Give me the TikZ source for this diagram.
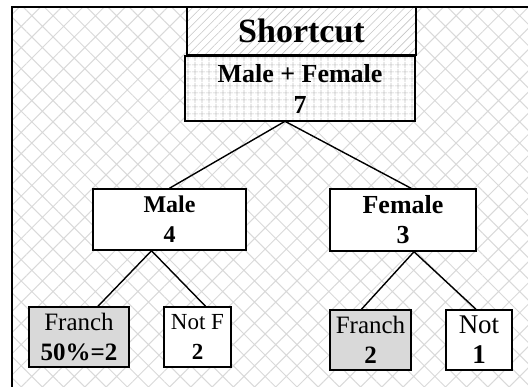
\documentclass[tikz,border=0pt]{standalone}
\usepackage{fontspec}
\setmainfont{Liberation Serif}
\usetikzlibrary{patterns.meta}

\tikzset{
  box/.style={draw=black, line width=1.5pt, fill=white, align=center, inner sep=0pt,
    font=\fontsize{25}{30}\selectfont},
  greybox/.style={box, fill=gray!30},
  link/.style={draw=black, line width=1.4pt},
}

\begin{document}
\begin{tikzpicture}[x=1pt,y=-1pt]
  \useasboundingbox (0,0) rectangle (528,387);
  \clip (0,0) rectangle (528,387);
  % background and frame
  \fill[pattern={Hatch[angle=45,distance=15pt,line width=1pt]}, pattern color=gray!30] (12,7) rectangle (540,400);
  \draw[line width=2pt] (12,400) -- (12,7) -- (540,7);

  % top boxes
  \node[box, minimum width=229pt, minimum height=48pt, line width=1.8pt,
    preaction={fill=white}, pattern={Lines[angle=45,distance=6pt,line width=0.6pt]},
    pattern color=gray!45, font=\fontsize{34}{40}\selectfont\bfseries] (short) at (301.5,31) {Shortcut};
  \node[box, minimum width=230pt, minimum height=65pt, line width=1.7pt,
    preaction={fill=white}, pattern={Hatch[angle=0,distance=6.5pt,line width=0.6pt]},
    pattern color=gray!45, font=\fontsize{26}{31}\selectfont\bfseries] (both) at (300,88.5) {Male + Female\\7};

  % middle level
  \node[box, minimum width=153pt, minimum height=61pt, font=\fontsize{24}{30}\selectfont\bfseries] (male) at (169.5,219.5) {Male\\4};
  \node[box, minimum width=146pt, minimum height=62pt, font=\fontsize{26}{30}\selectfont\bfseries] (female) at (403,220) {Female\\3};

  % bottom level
  \node[greybox, minimum width=100pt, minimum height=60pt] (franchm) at (79,337) {Franch\\\textbf{50\%=2}};
  \node[box, minimum width=67pt, minimum height=60pt, font=\fontsize{23}{30}\selectfont] (notm) at (197.5,337) {Not F\\\textbf{2}};
  \node[greybox, minimum width=81pt, minimum height=60pt] (franchf) at (370.5,340) {Franch\\\textbf{2}};
  \node[box, minimum width=66pt, minimum height=60pt, font=\fontsize{27}{30}\selectfont] (notf) at (479,340) {Not\\\textbf{1}};

  % connectors
  \draw[link] ([xshift=-15pt]both.south) -- (male.north);
  \draw[link] ([xshift=-15pt]both.south) -- ([xshift=8pt]female.north);
  \draw[link] ([xshift=-18pt]male.south) -- ([xshift=19pt]franchm.north);
  \draw[link] ([xshift=-18pt]male.south) -- ([xshift=8pt]notm.north);
  \draw[link] ([xshift=11pt]female.south) -- ([xshift=-9pt]franchf.north);
  \draw[link] ([xshift=11pt]female.south) -- ([xshift=-3pt]notf.north);
\end{tikzpicture}
\end{document}
